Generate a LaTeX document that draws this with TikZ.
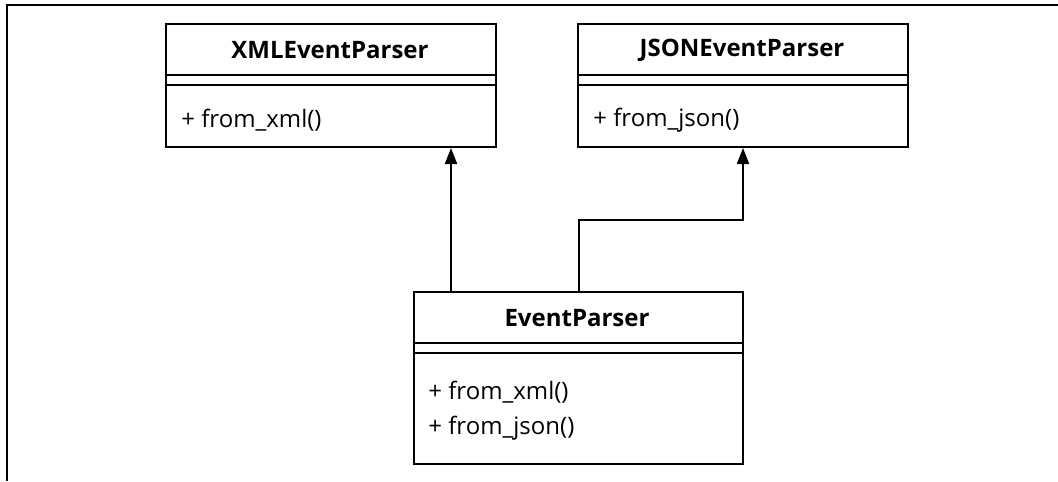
\documentclass[tikz,border=0pt]{standalone}
\usepackage{fontspec}
\setmainfont{Open Sans}
\usetikzlibrary{arrows.meta,calc}

\tikzset{
  classbox/.style={draw, line width=1pt, inner sep=0pt, anchor=north west},
  classname/.style={font=\fontsize{12}{14}\selectfont\bfseries, inner sep=0pt},
  method/.style={font=\fontsize{12}{14}\selectfont, anchor=west, inner sep=0pt},
  inherit/.style={-{Triangle[length=8pt,width=6pt]}, line width=1pt}
}

\begin{document}
\begin{tikzpicture}[x=0.5pt,y=-0.5pt]
  \useasboundingbox (0,0) rectangle (1058,481);
  % frame
  \draw[line width=1pt] (1058,5) -- (7,5) -- (7,481);

  % class boxes with the empty attribute part
  \foreach \name/\px/\py/\w/\h in {
      xml/165/23/330/123,
      json/577/23/330/123,
      event/413/291/329/172
    } {
      \node[classbox, minimum width=\w*0.5pt, minimum height=\h*0.5pt]
        (\name) at (\px,\py) {};
      \draw[line width=1pt]
        ([yshift=-26pt]\name.north west) -- ([yshift=-26pt]\name.north east)
        ([yshift=-31pt]\name.north west) -- ([yshift=-31pt]\name.north east);
    };

  \node[classname] (xmlname) at (330,50) {XMLEventParser};
  \node[classname] (jsonname) at (742,50) {JSONEventParser};
  \node[classname] (eventname) at (577,318) {EventParser};

  \node[method] (xmlfrom) at (181,120) {+ from\_xml()};
  \node[method] (jsonfrom) at (593,120) {+ from\_json()};
  \node[method] (eventxml) at (428,392) {+ from\_xml()};
  \node[method] (eventjson) at (428,428) {+ from\_json()};

  % generalisation arrows
  \coordinate (bend) at ($(event.north)!.5!(json.south)$);
  \draw[inherit] ([xshift=19pt]event.north west)
    -- ([xshift=19pt]event.north west |- xml.south);
  \draw[inherit] (event.north) -- (event.north |- bend) -| (json.south);
\end{tikzpicture}
\end{document}
